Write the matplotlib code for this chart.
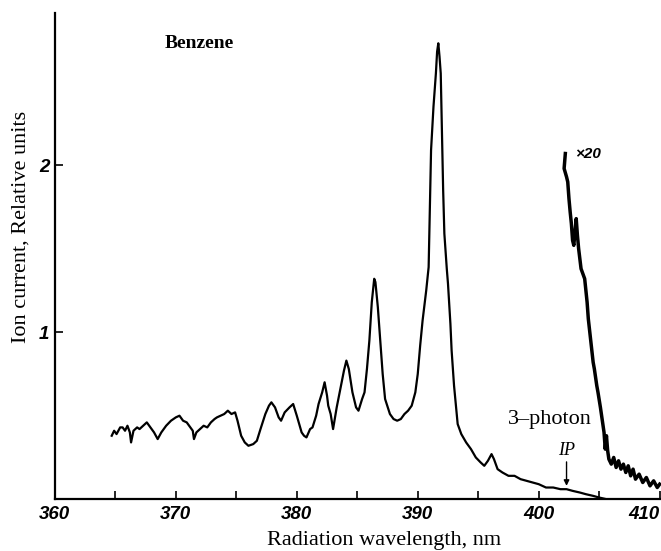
import matplotlib.pyplot as plt
from matplotlib.ticker import MultipleLocator

# main 3-photon ionisation spectrum of benzene
wavelength = [364.7, 364.9, 365.1, 365.4, 365.6, 365.8, 366.0, 366.2, 366.3, 366.5,
              366.8, 367.0, 367.3, 367.6, 367.9, 368.2, 368.5, 368.8, 369.2, 369.6,
              370.0, 370.3, 370.6, 370.9, 371.2, 371.4, 371.5, 371.7, 372.0, 372.3,
              372.6, 372.9, 373.2, 373.4, 373.7, 374.0, 374.3, 374.6, 374.9, 375.1,
              375.4, 375.7, 376.0, 376.4, 376.7, 377.0, 377.4, 377.7, 377.9, 378.2,
              378.5, 378.7, 379.0, 379.4, 379.7, 380.0, 380.4, 380.6, 380.8, 381.1,
              381.3, 381.6, 381.8, 382.1, 382.3, 382.5, 382.6, 382.8, 383.0, 383.3,
              383.6, 383.9, 384.1, 384.3, 384.6, 384.9, 385.1, 385.4, 385.6, 385.8,
              386.0, 386.2, 386.4, 386.5, 386.7, 386.9, 387.1, 387.3, 387.7, 388.0,
              388.3, 388.6, 388.9, 389.2, 389.5, 389.8, 390.0, 390.2, 390.4, 390.7,
              390.9, 391.0, 391.1, 391.3, 391.5, 391.6, 391.7, 391.8, 391.9, 392.0,
              392.1, 392.2, 392.4, 392.5, 392.7, 392.8, 393.0, 393.3, 393.6, 394.0,
              394.4, 394.8, 395.2, 395.5, 395.8, 396.1, 396.3, 396.6, 397.0, 397.5,
              398.0, 398.5, 399.0, 399.5, 400.0, 400.6, 401.2, 401.8, 402.3, 402.8,
              403.4, 403.9, 404.5, 405.0, 405.6, 407.0, 410.0]
ion_current = [0.38, 0.41, 0.39, 0.43, 0.43, 0.41, 0.44, 0.40, 0.34, 0.41,
               0.43, 0.42, 0.44, 0.46, 0.43, 0.40, 0.36, 0.40, 0.44, 0.47,
               0.49, 0.50, 0.47, 0.46, 0.43, 0.41, 0.36, 0.40, 0.42, 0.44,
               0.43, 0.46, 0.48, 0.49, 0.50, 0.51, 0.53, 0.51, 0.52, 0.47,
               0.38, 0.34, 0.32, 0.33, 0.35, 0.42, 0.51, 0.56, 0.58, 0.55,
               0.49, 0.47, 0.52, 0.55, 0.57, 0.50, 0.40, 0.38, 0.37, 0.42,
               0.43, 0.50, 0.57, 0.64, 0.70, 0.62, 0.56, 0.51, 0.42, 0.55,
               0.66, 0.77, 0.83, 0.78, 0.64, 0.55, 0.53, 0.60, 0.64, 0.78,
               0.95, 1.18, 1.32, 1.30, 1.15, 0.95, 0.75, 0.60, 0.51, 0.48,
               0.47, 0.48, 0.51, 0.53, 0.56, 0.64, 0.75, 0.92, 1.07, 1.25,
               1.39, 1.75, 2.09, 2.35, 2.55, 2.68, 2.73, 2.65, 2.55, 2.19,
               1.85, 1.59, 1.38, 1.29, 1.05, 0.89, 0.68, 0.45, 0.39, 0.34,
               0.30, 0.25, 0.22, 0.20, 0.23, 0.27, 0.24, 0.18, 0.16, 0.14,
               0.14, 0.12, 0.11, 0.10, 0.09, 0.07, 0.07, 0.06, 0.06, 0.05,
               0.04, 0.03, 0.02, 0.01, 0.00, 0.00, 0.00]

# tail near the ionisation potential, magnified x20
wavelength_x20 = [402.2, 402.1, 402.3, 402.4, 402.5, 402.6, 402.7, 402.8, 402.9, 403.0,
                  403.1, 403.2, 403.3, 403.5, 403.7, 403.8, 404.0, 404.1, 404.3, 404.5,
                  404.6, 404.8, 404.9, 405.1, 405.3, 405.4, 405.5, 405.6, 405.7, 405.8,
                  406.0, 406.2, 406.4, 406.6, 406.8, 407.0, 407.2, 407.4, 407.6, 407.8,
                  408.0, 408.3, 408.6, 408.9, 409.2, 409.5, 409.8, 410.0]
ion_current_x20 = [2.07, 1.98, 1.93, 1.90, 1.80, 1.72, 1.65, 1.55, 1.52, 1.60,
                   1.68, 1.58, 1.50, 1.38, 1.34, 1.32, 1.18, 1.08, 0.95, 0.82,
                   0.78, 0.68, 0.64, 0.55, 0.45, 0.40, 0.30, 0.38, 0.29, 0.24,
                   0.21, 0.25, 0.19, 0.23, 0.18, 0.21, 0.16, 0.20, 0.14, 0.18,
                   0.12, 0.15, 0.10, 0.13, 0.08, 0.11, 0.07, 0.09]

x_ticks = [360, 370, 380, 390, 400, 410]
y_ticks = [1, 2]
ip_wavelength = 402.3

serif = ['Liberation Serif', 'DejaVu Serif']
tickfont = ['Liberation Sans Narrow', 'Liberation Sans', 'DejaVu Sans']

fig = plt.figure(figsize=(6.61, 5.51), dpi=100)
ax = fig.add_axes([0.083, 0.094, 0.915, 0.882])

ax.plot(wavelength, ion_current, color='black', lw=1.6)
ax.plot(wavelength_x20, ion_current_x20, color='black', lw=2.5, clip_on=False)

ax.set_xlim(360, 410)
ax.set_ylim(0, 2.91)
ax.spines['top'].set_visible(False)
ax.spines['right'].set_visible(False)
ax.spines['left'].set_linewidth(1.6)
ax.spines['bottom'].set_linewidth(1.6)

ax.set_xticks(x_ticks)
ax.xaxis.set_minor_locator(MultipleLocator(5))
ax.set_yticks(y_ticks)
ax.tick_params(direction='in', length=6, width=1.2, pad=5)
ax.tick_params(which='minor', direction='in', length=6, width=1.2)
ax.tick_params(axis='y', pad=4)
for lab in ax.get_xticklabels() + ax.get_yticklabels():
    lab.set_family(tickfont)
    lab.set_style('italic')
    lab.set_weight('bold')
    lab.set_fontsize(13.5)
ax.get_xticklabels()[-1].set_horizontalalignment('right')

ax.set_xlabel('Radiation wavelength, nm', family=serif, fontsize=16)
ax.xaxis.set_label_coords(0.544, -0.066)
ax.set_ylabel('Ion current, Relative units', family=serif, fontsize=16)
ax.yaxis.set_label_coords(-0.040, 0.56)

ax.text(371.9, 2.73, 'Benzene', family=serif, weight='bold', fontsize=14,
        ha='center', va='center')
ax.text(400.9, 0.48, '3\u2013photon', family=serif, fontsize=16, ha='center', va='center')
ax.text(403.0, 2.07, '\u00d720', family=tickfont, style='italic', weight='bold',
        fontsize=11, ha='left', va='center')
ax.annotate('IP', xy=(ip_wavelength, 0.08), xytext=(ip_wavelength, 0.24),
            family=serif, style='italic', fontsize=13, ha='center', va='bottom',
            arrowprops=dict(arrowstyle='-|>', color='black', lw=1.0,
                            mutation_scale=8, shrinkA=0, shrinkB=0))

fig.savefig('out.png', dpi=100)
